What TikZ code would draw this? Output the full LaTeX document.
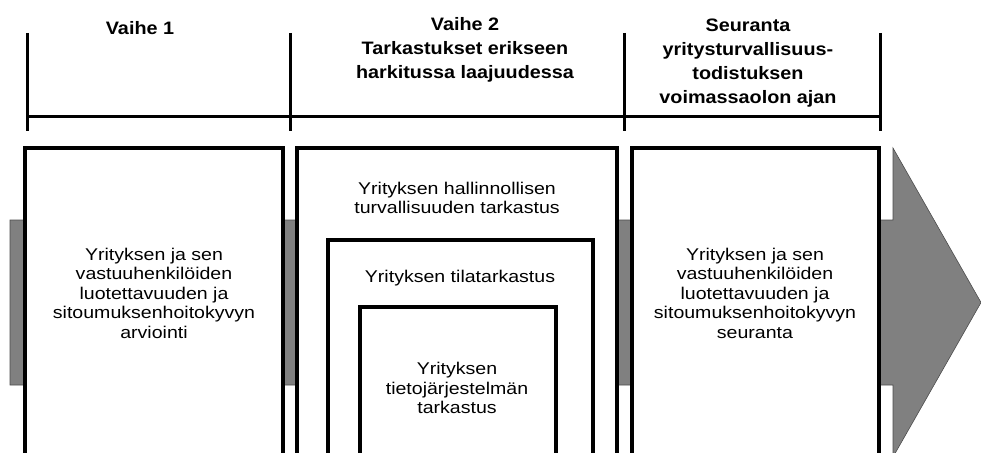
\documentclass[tikz,border=0pt]{standalone}
\usepackage{fontspec}
\setmainfont{Liberation Sans}
\newfontfamily\hfont[FakeStretch=1.1]{Liberation Sans}
\newfontfamily\bfont[FakeStretch=1.15]{Liberation Sans}
\definecolor{bandgray}{HTML}{808080}
\begin{document}
\begin{tikzpicture}[x=1pt,y=-1pt,
  boxline/.style={line width=3.4pt,draw=black,fill=white},
  head/.style={align=center,inner sep=0pt,font=\hfont\bfseries\fontsize{18}{24}\selectfont},
  body/.style={align=center,inner sep=0pt,font=\bfont\fontsize{17}{19.5}\selectfont},
  band/.style={fill=bandgray,draw=black!70,line width=0.6pt}]
\useasboundingbox (0,0) rectangle (981,452);
\clip (0,0) rectangle (981,452);
% timeline
\coordinate (t1) at (27,116);
\coordinate (t2) at (290,116);
\coordinate (t3) at (624,116);
\coordinate (t4) at (880,116);
\coordinate (u1) at (27,33);  \coordinate (d1) at (27,131);
\coordinate (u2) at (290,33); \coordinate (d2) at (290,131);
\coordinate (u3) at (624,33); \coordinate (d3) at (624,131);
\coordinate (u4) at (880,33); \coordinate (d4) at (880,131);
\draw[line width=3pt] (t1) -- (t4);
\draw[line width=3pt] (u1) -- (d1);
\draw[line width=3pt] (u2) -- (d2);
\draw[line width=3pt] (u3) -- (d3);
\draw[line width=3pt] (u4) -- (d4);
% headers
\node[head] (h1) at (140,28) {Vaihe 1};
\node[head] (h2) at (465,50) {Vaihe 2\\Tarkastukset erikseen\\harkitussa laajuudessa};
\node[head] (h3) at (748,63) {Seuranta\\yritysturvallisuus-\\todistuksen\\voimassaolon ajan};
% band arrow
\draw[band] (10,220) -- (893,220) -- (893,148) -- (981,302.5) -- (893,457) -- (893,385) -- (10,385) -- cycle;
% boxes
\draw[boxline] (25,148) rectangle (283,470);
\draw[boxline] (297,148) rectangle (617,470);
\draw[boxline] (328,240) rectangle (593,470);
\draw[boxline] (360,307) rectangle (556,470);
\draw[boxline] (632,148) rectangle (879,470);
% texts
\node[body] (a1) at (154,293) {Yrityksen ja sen\\vastuuhenkilöiden\\luotettavuuden ja\\sitoumuksenhoitokyvyn\\arviointi};
\node[body] (a3) at (755,293) {Yrityksen ja sen\\vastuuhenkilöiden\\luotettavuuden ja\\sitoumuksenhoitokyvyn\\seuranta};
\node[body] (b1) at (457,198) {Yrityksen hallinnollisen\\turvallisuuden tarkastus};
\node[body] (b2) at (460,278) {Yrityksen tilatarkastus};
\node[body] (b3) at (457,388) {Yrityksen\\tietojärjestelmän\\tarkastus};
\end{tikzpicture}
\end{document}
